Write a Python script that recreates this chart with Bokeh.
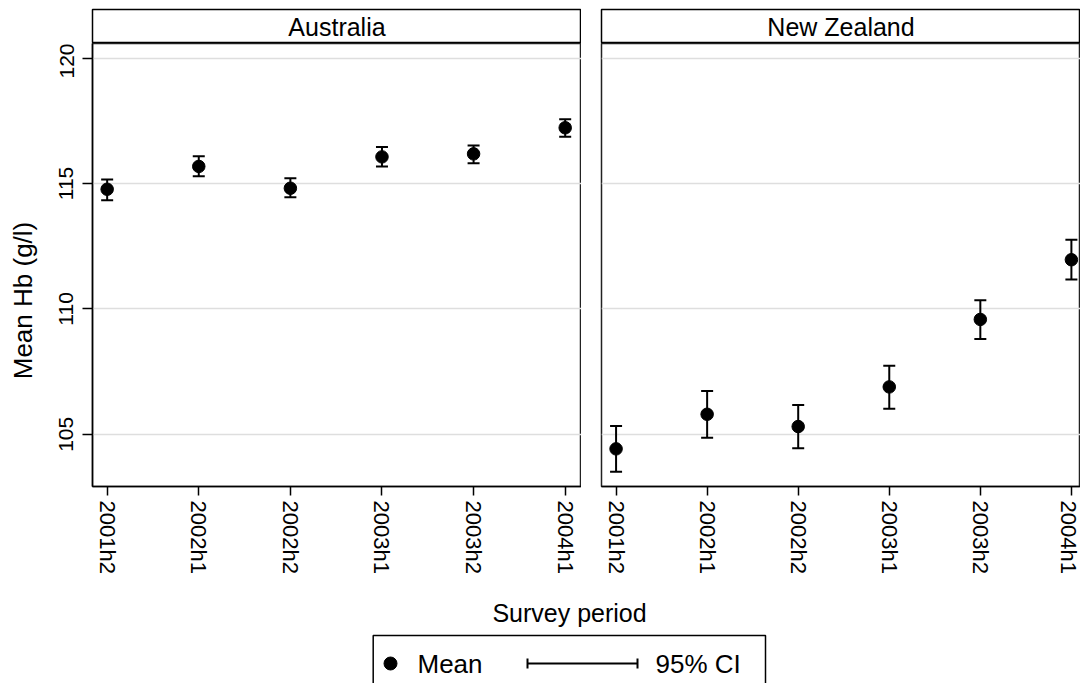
import math
from bokeh.plotting import figure
from bokeh.models import ColumnDataSource, Whisker, TeeHead, FixedTicker, Grid, Range1d
from bokeh.layouts import column, row
from bokeh.embed import file_html
from bokeh.resources import INLINE
from bokeh.core.properties import value

# ---------------- data ----------------
periods = ["2001h2", "2002h1", "2002h2", "2003h1", "2003h2", "2004h1"]
countries = ["Australia", "New Zealand"]

aus_mean = [114.77, 115.68, 114.81, 116.06, 116.18, 117.22]
aus_lo = [114.33, 115.29, 114.45, 115.68, 115.81, 116.86]
aus_hi = [115.16, 116.09, 115.21, 116.45, 116.51, 117.56]

nz_mean = [104.42, 105.80, 105.31, 106.89, 109.58, 111.96]
nz_lo = [103.51, 104.86, 104.44, 106.02, 108.80, 111.17]
nz_hi = [105.33, 106.73, 106.17, 107.73, 110.34, 112.76]

y_ticks = [105, 110, 115, 120]
y_title = "Mean Hb (g/l)"
x_title = "Survey period"
legend_labels = ["Mean", "95% CI"]

FONT = "Liberation Sans"
GRID = "#dedede"
FRAME = "#222222"


def hide_grids(fig):
    for r in list(fig.center):
        if isinstance(r, Grid):
            r.visible = False


def blank(width, height, xr, yr, left=0, top=0):
    f = figure(width=width, height=height, output_backend="svg", toolbar_location=None, title=None,
               x_range=Range1d(*xr), y_range=Range1d(*yr),
               x_axis_location=None, y_axis_location=None,
               min_border_left=left, min_border_right=0, min_border_top=top, min_border_bottom=0)
    hide_grids(f)
    f.outline_line_color = None
    f.background_fill_color = "white"
    f.border_fill_color = "white"
    return f


def make_strip(label, width, left):
    s = blank(width, 43, (0, 1), (0, 1), left=left, top=9)
    s.outline_line_color = "black"
    s.outline_line_width = 1.5
    s.text(x=[0.5], y=[0.5], text=[label], text_font=value(FONT), text_font_size="25px",
           text_align="center", text_baseline="middle", text_color="black")
    return s


def make_panel(means, lo, hi, width, left, x_end, show_y):
    p = figure(width=width, height=543, output_backend="svg", toolbar_location=None, title=None,
               x_range=Range1d(-0.16, x_end), y_range=Range1d(102.92, 120.58),
               x_axis_location="below", y_axis_location="left" if show_y else None,
               min_border_left=left, min_border_right=0, min_border_top=0, min_border_bottom=100)
    hide_grids(p)
    p.background_fill_color = "white"
    p.border_fill_color = "white"
    p.outline_line_color = FRAME
    p.outline_line_width = 1.5
    p.add_layout(Grid(dimension=1, ticker=FixedTicker(ticks=y_ticks),
                      grid_line_color=GRID, grid_line_width=1.5))

    idx = list(range(len(periods)))
    src = ColumnDataSource(dict(x=idx, m=means, lo=lo, hi=hi))

    xa = p.xaxis[0]
    xa.ticker = FixedTicker(ticks=idx)
    xa.major_label_overrides = {i: lab for i, lab in enumerate(periods)}
    xa.major_label_orientation = -math.pi / 2
    xa.major_label_text_font = FONT
    xa.major_label_text_font_size = "22px"
    xa.major_label_text_color = "black"
    xa.major_label_standoff = 5
    xa.major_tick_in = 0
    xa.major_tick_out = 9
    xa.major_tick_line_width = 1.5
    xa.minor_tick_line_color = None
    xa.axis_line_width = 1.5
    xa.axis_line_color = "black"

    if show_y:
        ya = p.yaxis[0]
        ya.ticker = FixedTicker(ticks=y_ticks)
        ya.major_label_orientation = "vertical"
        ya.major_label_text_font = FONT
        ya.major_label_text_font_size = "21px"
        ya.major_label_text_color = "black"
        ya.major_label_standoff = 9
        ya.major_tick_in = 0
        ya.major_tick_out = 10
        ya.major_tick_line_width = 1.5
        ya.minor_tick_line_color = None
        ya.axis_line_width = 1.5
        ya.axis_line_color = "black"

    p.add_layout(Whisker(base="x", upper="hi", lower="lo", source=src, dimension="height",
                         line_color="black", line_width=2,
                         upper_head=TeeHead(size=12, line_width=2, line_color="black"),
                         lower_head=TeeHead(size=12, line_width=2, line_color="black")))
    p.scatter(x="x", y="m", source=src, size=12.5, marker="circle",
              fill_color="black", line_color="black")
    return p


LEFT_W = 45
stripA = make_strip(countries[0], 581 - LEFT_W, 92 - LEFT_W)
stripB = make_strip(countries[1], 499, 20)
panelA = make_panel(aus_mean, aus_lo, aus_hi, 581 - LEFT_W, 92 - LEFT_W, 5.178, True)
panelB = make_panel(nz_mean, nz_lo, nz_hi, 499, 20, 5.10, False)

# left: y-axis title
ytf = blank(LEFT_W, 586, (0, LEFT_W), (0, 586))
ytf.text(x=[22], y=[286], text=[y_title], angle=math.pi / 2, text_font=value(FONT),
         text_font_size="26px", text_align="center", text_baseline="middle", text_color="black")

# bottom: x title and legend
b = blank(1080, 97, (0, 1080), (0, 97))
b.text(x=[569], y=[71], text=[x_title], text_font=value(FONT), text_font_size="25px",
       text_align="center", text_baseline="middle", text_color="black")
b.quad(left=[372.7], right=[765], top=[48], bottom=[-5], fill_color=None,
       line_color="black", line_width=1.5)
b.scatter(x=[390], y=[20], size=13, marker="circle", fill_color="black", line_color="black")
b.text(x=[417], y=[20], text=[legend_labels[0]], text_font=value(FONT), text_font_size="26px",
       text_align="left", text_baseline="middle", text_color="black")
b.segment(x0=[527], y0=[20], x1=[637], y1=[20], line_color="black", line_width=2)
b.segment(x0=[527, 637], y0=[15, 15], x1=[527, 637], y1=[25, 25], line_color="black", line_width=2)
b.text(x=[655], y=[20], text=[legend_labels[1]], text_font=value(FONT), text_font_size="26px",
       text_align="left", text_baseline="middle", text_color="black")

layout = column(row(ytf, column(row(stripA, stripB), row(panelA, panelB))), b)

open("out.html", "w").write(file_html(layout, INLINE))
